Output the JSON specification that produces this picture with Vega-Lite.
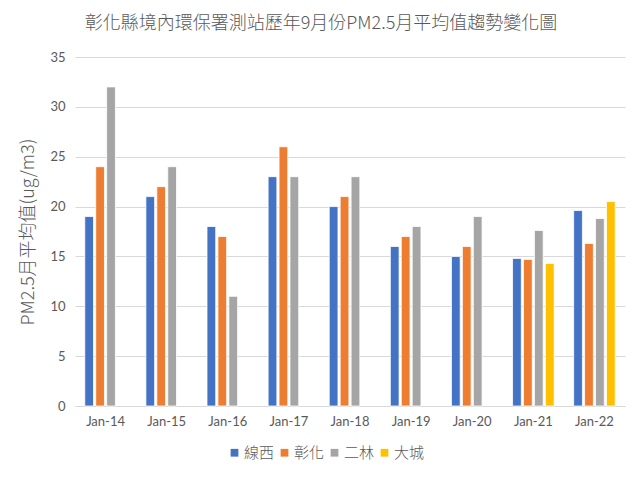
{
  "$schema": "https://vega.github.io/schema/vega-lite/v6.json",
  "width": 550,
  "height": 349,
  "autosize": {"type": "none"},
  "padding": {"left": 75, "top": 57, "right": 18, "bottom": 78},
  "background": "white",
  "title": {
    "text": "彰化縣境內環保署測站歷年9月份PM2.5月平均值趨勢變化圖",
    "font": "Noto Sans CJK TC",
    "fontSize": 18,
    "fontWeight": 300,
    "color": "#595959",
    "anchor": "middle",
    "dx": -29,
    "offset": 18
  },
  "data": {
    "values": [
      {"year": "Jan-14", "station": "線西", "value": 19},
      {"year": "Jan-14", "station": "彰化", "value": 24},
      {"year": "Jan-14", "station": "二林", "value": 32},
      {"year": "Jan-15", "station": "線西", "value": 21},
      {"year": "Jan-15", "station": "彰化", "value": 22},
      {"year": "Jan-15", "station": "二林", "value": 24},
      {"year": "Jan-16", "station": "線西", "value": 18},
      {"year": "Jan-16", "station": "彰化", "value": 17},
      {"year": "Jan-16", "station": "二林", "value": 11},
      {"year": "Jan-17", "station": "線西", "value": 23},
      {"year": "Jan-17", "station": "彰化", "value": 26},
      {"year": "Jan-17", "station": "二林", "value": 23},
      {"year": "Jan-18", "station": "線西", "value": 20},
      {"year": "Jan-18", "station": "彰化", "value": 21},
      {"year": "Jan-18", "station": "二林", "value": 23},
      {"year": "Jan-19", "station": "線西", "value": 16},
      {"year": "Jan-19", "station": "彰化", "value": 17},
      {"year": "Jan-19", "station": "二林", "value": 18},
      {"year": "Jan-20", "station": "線西", "value": 15},
      {"year": "Jan-20", "station": "彰化", "value": 16},
      {"year": "Jan-20", "station": "二林", "value": 19},
      {"year": "Jan-21", "station": "線西", "value": 14.8},
      {"year": "Jan-21", "station": "彰化", "value": 14.7},
      {"year": "Jan-21", "station": "二林", "value": 17.6},
      {"year": "Jan-21", "station": "大城", "value": 14.3},
      {"year": "Jan-22", "station": "線西", "value": 19.6},
      {"year": "Jan-22", "station": "彰化", "value": 16.3},
      {"year": "Jan-22", "station": "二林", "value": 18.8},
      {"year": "Jan-22", "station": "大城", "value": 20.5}
    ]
  },
  "mark": {"type": "bar", "stroke": "white", "strokeWidth": 0.8},
  "encoding": {
    "x": {
      "field": "year",
      "type": "nominal",
      "sort": null,
      "scale": {"paddingInner": 0.32, "paddingOuter": 0.16},
      "axis": {
        "title": null,
        "labelAngle": 0,
        "ticks": false,
        "domainColor": "#D9D9D9",
        "labelColor": "#595959",
        "labelFont": "Lato",
        "labelFontSize": 13,
        "labelPadding": 9
      }
    },
    "xOffset": {
      "field": "station",
      "type": "nominal",
      "scale": {"domain": ["線西", "彰化", "二林", "大城"], "paddingInner": 0.2}
    },
    "y": {
      "field": "value",
      "type": "quantitative",
      "scale": {"domain": [0, 35]},
      "axis": {
        "title": "PM2.5月平均值(ug/m3)",
        "titleFont": "Noto Sans CJK TC",
        "titleFontSize": 18,
        "titleFontWeight": 300,
        "titleColor": "#595959",
        "titlePadding": 12,
        "values": [0, 5, 10, 15, 20, 25, 30, 35],
        "domain": false,
        "ticks": false,
        "gridColor": "#D9D9D9",
        "labelColor": "#595959",
        "labelFont": "Lato",
        "labelFontSize": 13,
        "labelPadding": 10
      }
    },
    "color": {
      "field": "station",
      "type": "nominal",
      "scale": {"domain": ["線西", "彰化", "二林", "大城"], "range": ["#4472C4", "#ED7D31", "#A5A5A5", "#FFC000"]},
      "legend": {
        "title": null,
        "orient": "none",
        "direction": "horizontal",
        "legendX": 152,
        "legendY": 388,
        "symbolType": "square",
        "symbolSize": 60,
        "symbolStrokeWidth": 0,
        "labelFont": "Noto Sans CJK TC",
        "labelFontSize": 15,
        "labelFontWeight": 300,
        "labelColor": "#595959",
        "columnPadding": 2,
        "labelOffset": 2
      }
    }
  },
  "config": {"view": {"stroke": null}}
}
